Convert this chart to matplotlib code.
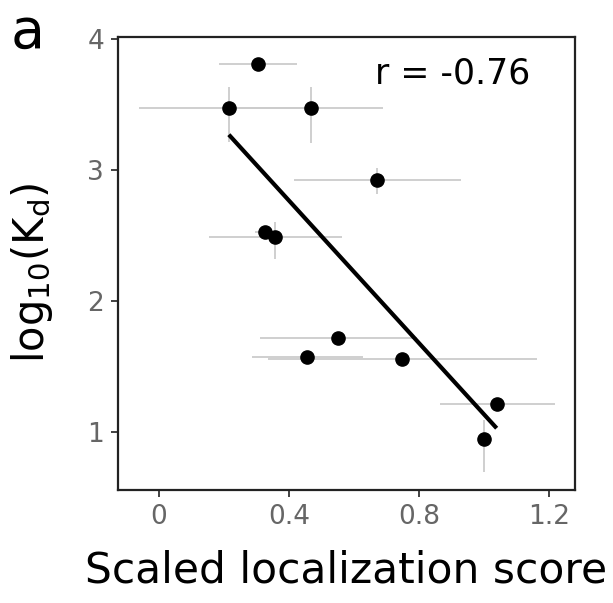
"""
log10(Kd) vs scaled localization score, with linear fit
"""

import numpy as np
from matplotlib import pyplot as plt

# point estimates
score = [0.304, 0.215, 0.468, 0.671, 0.327, 0.358, 0.552, 0.456, 0.748, 1.039, 1.000]
logKd = [3.807, 3.469, 3.470, 2.924, 2.522, 2.484, 1.718, 1.573, 1.553, 1.211, 0.947]

# error bar ends
scoreLo = [0.186, -0.060, 0.246, 0.415, 0.295, 0.155, 0.311, 0.285, 0.336, 0.865, 1.000]
scoreHi = [0.426, 0.490, 0.690, 0.929, 0.360, 0.562, 0.793, 0.627, 1.162, 1.218, 1.000]
logKdLo = [3.807, 3.210, 3.200, 2.815, 2.522, 2.316, 1.718, 1.573, 1.553, 1.211, 0.695]
logKdHi = [3.807, 3.630, 3.634, 3.015, 2.522, 2.603, 1.718, 1.573, 1.553, 1.211, 1.090]

xTicks = [0, 0.4, 0.8, 1.2]
xTickLabels = ["0", "0.4", "0.8", "1.2"]
yTicks = [1, 2, 3, 4]

x = np.array(score)
y = np.array(logKd)

fig = plt.figure(figsize=(6.13, 6.03), dpi=100)
ax = fig.add_axes([0.1925, 0.1874, 0.7455, 0.7507])

errColor = "#cccccc"
ax.hlines(y, scoreLo, scoreHi, color=errColor, lw=1.3, zorder=1)
ax.vlines(x, logKdLo, logKdHi, color=errColor, lw=1.3, zorder=1)

# linear fit over the data range
slope, intercept = np.polyfit(x, y, 1)
fitXs = np.array([x.min(), x.max()])
ax.plot(fitXs, slope * fitXs + intercept, color="black", lw=3, zorder=2,
        solid_capstyle="butt")

ax.plot(x, y, "o", color="black", markersize=9.5, zorder=3)

r = np.corrcoef(x, y)[0, 1]
ax.text(0.903, 0.92, "r = %.2f" % r, transform=ax.transAxes, ha="right", va="center",
        fontsize=25, color="black")

ax.set_xlim(-0.126, 1.28)
ax.set_ylim(0.555, 4.01)
ax.set_xticks(xTicks)
ax.set_xticklabels(xTickLabels)
ax.set_yticks(yTicks)

for sp in ax.spines.values():
    sp.set_linewidth(1.6)
    sp.set_color("#222222")
ax.tick_params(axis="both", length=5, width=1.3, color="#333333", labelcolor="#666666",
               labelsize=19, pad=5)

ax.set_xlabel("Scaled localization score", fontsize=30.5, labelpad=14)
ax.set_ylabel(r"$\mathregular{log_{10}(K_d)}$", fontsize=30)
ax.yaxis.set_label_coords(-0.138, 0.479)

fig.text(0.018, 0.99, "a", fontsize=40, ha="left", va="top")

fig.savefig("out.png", dpi=100)
